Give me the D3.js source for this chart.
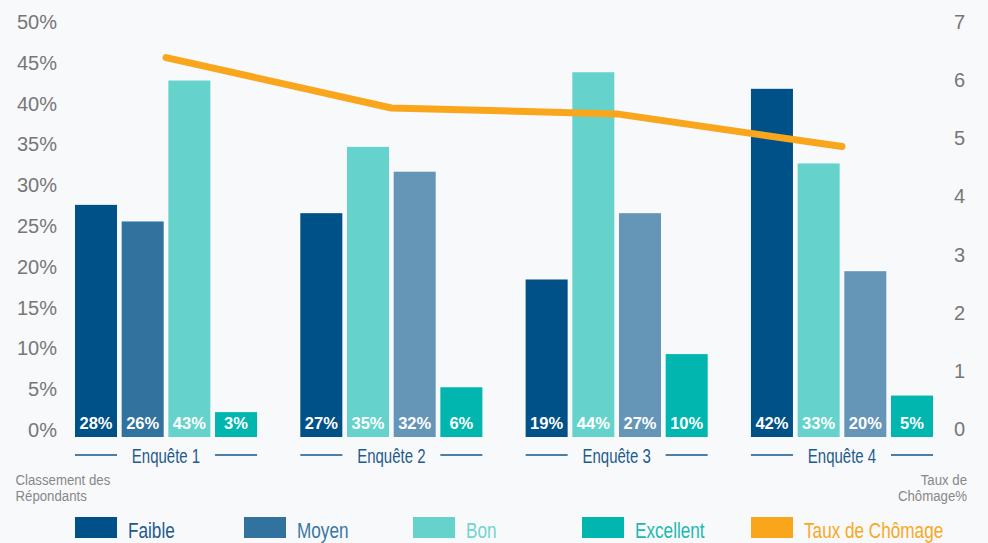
<!DOCTYPE html>
<html>
<head>
<meta charset="utf-8">
<script src="https://cdn.jsdelivr.net/npm/d3@7"></script>
<style>
  html, body { margin: 0; padding: 0; background: #f8f9fb; }
  svg { display: block; }
  .tick-label { font-family: "Liberation Sans", Arial, sans-serif; font-size: 20px; fill: #777; }
  .narrow { font-family: "Liberation Sans", Arial, sans-serif; }
  .bar-label { font-family: "Liberation Sans", Arial, sans-serif; font-weight: bold; font-size: 16.5px; fill: #fff; }
</style>
</head>
<body>
<svg id="chart" width="988" height="543"></svg>
<script>
// data
const surveys = ['Enquête 1', 'Enquête 2', 'Enquête 3', 'Enquête 4'];
const series = ['Faible', 'Moyen', 'Bon', 'Excellent'];
const faible = [28, 27, 19, 42];
const moyen = [26, 32, 27, 20];
const bon = [43, 35, 44, 33];
const excellent = [3, 6, 10, 5];
const chomage = [6.4, 5.55, 5.45, 4.9];
// order of the bars inside each survey group
const barOrder = [
    ['Faible', 'Moyen', 'Bon', 'Excellent'],
    ['Faible', 'Bon', 'Moyen', 'Excellent'],
    ['Faible', 'Bon', 'Moyen', 'Excellent'],
    ['Faible', 'Bon', 'Moyen', 'Excellent']
];
const leftTicks = [0, 5, 10, 15, 20, 25, 30, 35, 40, 45, 50];
const rightTicks = [0, 1, 2, 3, 4, 5, 6, 7];
const legendItems = ['Faible', 'Moyen', 'Bon', 'Excellent', 'Taux de Chômage'];
const leftTitle = ['Classement des', 'Répondants'];
const rightTitle = ['Taux de', 'Chômage%'];

const values = {Faible: faible, Moyen: moyen, Bon: bon, Excellent: excellent};
const colors = {
    'Faible': '#005187',
    'Moyen': '#31729e',
    'Bon': '#65d3cc',
    'Excellent': '#00b6ae',
    'Taux de Chômage': '#f9a61d'
};
const legendText = {
    'Faible': '#1d5b8b',
    'Moyen': '#3a77a2',
    'Bon': '#72d4ce',
    'Excellent': '#1db8b0',
    'Taux de Chômage': '#f9a825'
};
const moyenPale = '#6596b8';

// no condensed face installed, so squeeze the regular one
const narrowAt = (x, y, sx) => `translate(${x},${y}) scale(${sx},1)`;

const svg = d3.select('#chart');

const x0 = d3.scaleBand().domain(surveys).range([75, 933]).paddingInner(0.192).paddingOuter(0);
const x1 = d3.scaleBand().domain(d3.range(4)).range([0, x0.bandwidth()]).paddingInner(0.1);
const y = d3.scaleLinear().domain([0, 50]).range([437, 22.5]);
const yR = d3.scaleLinear().domain([0, 7]).range([437, 22]);
const yLabel = d3.scaleLinear().domain([0, 50]).range([437, 29]);
const yRLabel = d3.scaleLinear().domain([0, 7]).range([436, 29]);

// left axis labels
svg.append('g').selectAll('text')
    .data(leftTicks)
    .enter().append('text')
    .attr('class', 'tick-label')
    .attr('x', 57)
    .attr('y', d => yLabel(d))
    .attr('text-anchor', 'end')
    .text(d => d + '%');

// right axis labels
svg.append('g').selectAll('text')
    .data(rightTicks)
    .enter().append('text')
    .attr('class', 'tick-label')
    .attr('x', 954)
    .attr('y', d => yRLabel(d))
    .text(d => d);

// bars
const groups = svg.append('g').selectAll('g')
    .data(surveys)
    .enter().append('g')
    .attr('transform', d => `translate(${x0(d)},0)`);

const bars = groups.selectAll('g.bar')
    .data((d, i) => barOrder[i].map((s, j) => ({survey: i, series: s, pos: j, value: values[s][i]})))
    .enter().append('g')
    .attr('class', 'bar');

bars.append('rect')
    .attr('x', d => x1(d.pos))
    .attr('width', x1.bandwidth())
    .attr('y', d => y(d.value))
    .attr('height', d => y(0) - y(d.value))
    .attr('fill', d => (d.series === 'Moyen' && d.pos !== 1) ? moyenPale : colors[d.series]);

bars.append('text')
    .attr('class', 'bar-label')
    .attr('x', d => x1(d.pos) + x1.bandwidth() / 2)
    .attr('y', 429)
    .attr('text-anchor', 'middle')
    .text(d => d.value + '%');

// survey labels with the little rules on each side
const cat = svg.append('g').selectAll('g')
    .data(surveys)
    .enter().append('g')
    .attr('transform', d => `translate(${x0(d)},0)`);

cat.append('line')
    .attr('x1', x1(0)).attr('x2', x1(0) + x1.bandwidth())
    .attr('y1', 455).attr('y2', 455)
    .attr('stroke', '#4a7fa8').attr('stroke-width', 2);
cat.append('line')
    .attr('x1', x1(3)).attr('x2', x1(3) + x1.bandwidth())
    .attr('y1', 455).attr('y2', 455)
    .attr('stroke', '#4a7fa8').attr('stroke-width', 2);
cat.append('text')
    .attr('class', 'narrow')
    .attr('transform', narrowAt(x0.bandwidth() / 2, 462.5, 0.75))
    .attr('text-anchor', 'middle')
    .attr('font-size', 20)
    .attr('fill', '#1f5b8c')
    .text(d => d);

// unemployment line
const line = d3.line()
    .x((d, i) => x0(surveys[i]) + x0.bandwidth() / 2)
    .y(d => yR(d));

svg.append('path')
    .datum(chomage)
    .attr('d', line)
    .attr('fill', 'none')
    .attr('stroke', colors['Taux de Chômage'])
    .attr('stroke-width', 7)
    .attr('stroke-linecap', 'round')
    .attr('stroke-linejoin', 'round');

// axis titles, one text per line
svg.append('g').selectAll('text')
    .data(leftTitle)
    .enter().append('text')
    .attr('class', 'narrow')
    .attr('transform', (d, i) => narrowAt(15.5, 484.5 + i * 16.5, 0.9))
    .attr('font-size', 14.7)
    .attr('fill', '#888')
    .text(d => d);

svg.append('g').selectAll('text')
    .data(rightTitle)
    .enter().append('text')
    .attr('class', 'narrow')
    .attr('transform', (d, i) => narrowAt(967, 484.5 + i * 16.5, 0.9))
    .attr('text-anchor', 'end')
    .attr('font-size', 14.7)
    .attr('fill', '#888')
    .text(d => d);

// legend
const xl = d3.scalePoint().domain(legendItems).range([75, 751]);
const legend = svg.append('g').selectAll('g')
    .data(legendItems)
    .enter().append('g')
    .attr('transform', d => `translate(${xl(d)},517)`);

legend.append('rect')
    .attr('width', x1.bandwidth())
    .attr('height', 21)
    .attr('fill', d => colors[d]);

legend.append('text')
    .attr('class', 'narrow')
    .attr('transform', narrowAt(x1.bandwidth() + 11, 20.5, 0.78))
    .attr('font-size', 22)
    .attr('fill', d => legendText[d])
    .text(d => d);
</script>
</body>
</html>
